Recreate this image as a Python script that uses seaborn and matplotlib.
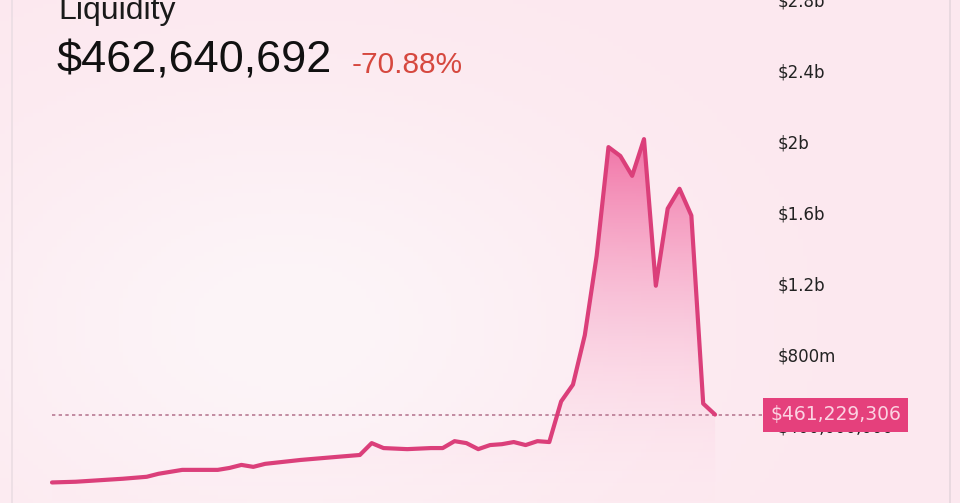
import numpy as np
import pandas as pd
import matplotlib
matplotlib.use("Agg")
import matplotlib.pyplot as plt
import seaborn as sns
from matplotlib.colors import LinearSegmentedColormap
from matplotlib.lines import Line2D

# liquidity history (day index, value in $m)
days = [0, 2, 6, 8, 9, 11, 14, 15, 16, 17, 18, 21, 24, 26, 27, 28, 30, 32, 33,
        34, 35, 36, 37, 38, 39, 40, 41, 42, 43, 44, 45, 46, 47, 48, 49, 50,
        51, 52, 53, 54, 55, 56]
liquidity_m = [78, 82, 99, 110, 127, 149, 149, 160, 177, 166, 183, 205, 222,
               233, 300, 272, 266, 272, 272, 311, 300, 266, 289, 294, 306, 289,
               311, 306, 535, 630, 909, 1356, 1970, 1920, 1808, 2015, 1188, 1623,
               1735, 1584, 523, 461]
ytick_values = [400e6, 800e6, 1.2e9, 1.6e9, 2.0e9, 2.4e9, 2.8e9]
ytick_labels = ["$400,000,000", "$800m", "$1.2b", "$1.6b", "$2b", "$2.4b", "$2.8b"]
current_value = 461229306
headline = "$462,640,692"
change = "-70.88%"

df = pd.DataFrame({"day": days, "liquidity": np.array(liquidity_m) * 1e6})

sns.set_theme(style="white")
plt.rcParams["font.family"] = ["DejaVu Sans"]

W, H = 960, 503
fig = plt.figure(figsize=(W / 100, H / 100), dpi=100)
fig.patch.set_facecolor("#fce8ef")

ax = fig.add_axes([0, 0, 950 / W, 1])
ax.set_facecolor("#fce8ef")

px_per_day = 11.84
xlim = (-52 / px_per_day, (950 - 52) / px_per_day)
ylim = (-0.0379e9, 2.766e9)

# soft background glow
gx, gy = np.meshgrid(np.linspace(0, 1, 200), np.linspace(0, 1, 120))
glow = np.exp(-(((gx - 0.3) / 0.35) ** 2 + ((gy - 0.35) / 0.45) ** 2))
bg = np.ones((120, 200, 4))
base = np.array([252, 232, 239]) / 255
light = np.array([253, 245, 248]) / 255
for c in range(3):
    bg[..., c] = base[c] + (light[c] - base[c]) * glow
ax.imshow(bg, extent=[0, 1, 0, 1], transform=ax.transAxes, aspect="auto",
          zorder=0, origin="lower")

# gradient fill under the curve
poly = ax.fill_between(df["day"], df["liquidity"], ylim[0],
                       facecolor="none", edgecolor="none")
cmap = LinearSegmentedColormap.from_list(
    "pinkfade", [(1.0, 0.86, 0.92, 0.0), (0.94, 0.40, 0.62, 0.9)])
grad = np.linspace(0, 1, 256).reshape(-1, 1)
img = ax.imshow(grad, cmap=cmap, aspect="auto", origin="lower",
                extent=[df["day"].min(), df["day"].max(),
                        ylim[0], df["liquidity"].max()],
                zorder=1)
img.set_clip_path(poly.get_paths()[0], transform=ax.transData)

sns.lineplot(data=df, x="day", y="liquidity", ax=ax, color="#db3f7a",
             linewidth=3.0, zorder=3)
ax.set_xlim(*xlim)
ax.set_ylim(*ylim)

ax.axhline(current_value, xmin=52 / 950, xmax=762 / 950, color="#b87a93",
           linestyle=(0, (2, 2)), linewidth=1.2, zorder=2)

ax.yaxis.tick_right()
ax.set_yticks(ytick_values)
ax.set_yticklabels(ytick_labels)
ax.tick_params(axis="y", length=0, pad=-(950 - 778) * 0.72, labelsize=12,
               labelcolor="#222222")
for lab in ax.get_yticklabels():
    lab.set_zorder(1)
    lab.set_verticalalignment("center_baseline")
ax.set_xticks([])
ax.set_xlabel("")
ax.set_ylabel("")
for s in ax.spines.values():
    s.set_visible(False)

ax.text(770 / 950, current_value, f"${current_value:,}", transform=ax.get_yaxis_transform(),
        ha="left", va="center", fontsize=13.5, color="#fbd3e2", zorder=5,
        bbox=dict(boxstyle="square,pad=0.4", facecolor="#e5407c", edgecolor="none"))

# headline text
fig.text(58 / W, 1 - 19 / H, "Liquidity", fontsize=23, color="#1a1a1a",
         family="Liberation Sans", va="baseline")
fig.text(57 / W, 1 - 73 / H, headline, fontsize=32.5, color="#111111",
         family="Liberation Sans", va="baseline")
fig.text(352 / W, 1 - 73 / H, change, fontsize=21.5, color="#d6483f",
         family="Liberation Sans", va="baseline")

# card borders
fig.add_artist(Line2D([12 / W, 12 / W], [0, 1], color="#ebdde3", linewidth=1.2))
fig.add_artist(Line2D([950 / W, 950 / W], [0, 1], color="#e6d6dd", linewidth=1.2))

fig.savefig("out.png", dpi=100, facecolor=fig.get_facecolor())
